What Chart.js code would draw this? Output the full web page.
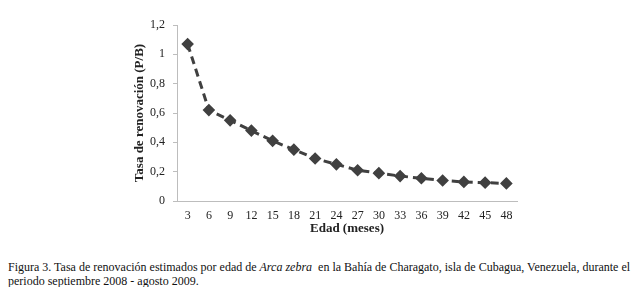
<!DOCTYPE html>
<html>
<head>
<meta charset="utf-8">
<script src="https://cdn.jsdelivr.net/npm/chart.js@4"></script>
<style>
  html, body { margin: 0; padding: 0; background: #fff; }
  #wrap { position: relative; width: 640px; height: 287px; overflow: hidden; }
  #chart { position: absolute; left: 0; top: 0; }
  #caption {
    position: absolute; left: 8px; top: 260px; width: 632px; white-space: nowrap;
    font-family: "Liberation Serif", "DejaVu Serif", serif;
    font-size: 12px; line-height: 14px; color: #111;
  }
</style>
</head>
<body>
<div id="wrap">
  <canvas id="chart" width="640" height="240"></canvas>
  <div id="caption">Figura 3. Tasa de renovación estimados por edad de <i>Arca zebra</i>&nbsp; en la Bahía de Charagato, isla de Cubagua, Venezuela, durante el<br>periodo septiembre 2008 - agosto 2009.</div>
</div>
<script>
const edades = ['3', '6', '9', '12', '15', '18', '21', '24', '27', '30', '33', '36', '39', '42', '45', '48'];
const tasaPB = [1.07, 0.62, 0.55, 0.48, 0.41, 0.35, 0.29, 0.25, 0.21, 0.19, 0.17, 0.155, 0.14, 0.13, 0.125, 0.12];
const yTicks = [0, 0.2, 0.4, 0.6, 0.8, 1, 1.2];

const serif = '"Liberation Serif", "DejaVu Serif", serif';
const markColor = '#404040';

new Chart(document.getElementById('chart').getContext('2d'), {
    type: 'line',
    data: {
        labels: edades,
        datasets: [{
            data: tasaPB,
            borderColor: markColor,
            borderWidth: 3,
            borderDash: [8, 5],
            pointStyle: 'rectRot',
            pointRadius: 4.2,
            pointBackgroundColor: markColor,
            pointBorderColor: markColor,
            tension: 0,
            fill: false
        }]
    },
    options: {
        responsive: false,
        animation: false,
        layout: { padding: { top: 25, right: 123, left: 132, bottom: 0 } },
        plugins: { legend: { display: false }, tooltip: { enabled: false } },
        scales: {
            x: {
                offset: true,
                grid: { display: false, drawTicks: false },
                border: { color: '#bdbdbd', width: 1 },
                ticks: { color: '#222', font: { family: serif, size: 12 }, padding: 8, maxRotation: 0, autoSkip: false },
                title: { display: true, text: 'Edad (meses)', color: '#222', font: { family: serif, size: 13, weight: 'bold' }, padding: { top: 2 } },
                afterFit: s => { s.height = 39; }
            },
            y: {
                min: 0, max: 1.2,
                afterBuildTicks: s => { s.ticks = yTicks.map(v => ({ value: v })); },
                grid: { display: true, drawOnChartArea: false, drawTicks: true, tickLength: 4, color: '#bdbdbd' },
                border: { color: '#bdbdbd', width: 1 },
                ticks: {
                    color: '#222', font: { family: serif, size: 12 }, padding: 8,
                    callback: v => String(Math.round(v * 10) / 10).replace('.', ',')
                },
                title: { display: true, text: 'Tasa de renovación (P/B)', color: '#222', font: { family: serif, size: 13, weight: 'bold' }, padding: 0 },
                afterFit: s => { s.width = 45; }
            }
        }
    }
});
</script>
</body>
</html>
